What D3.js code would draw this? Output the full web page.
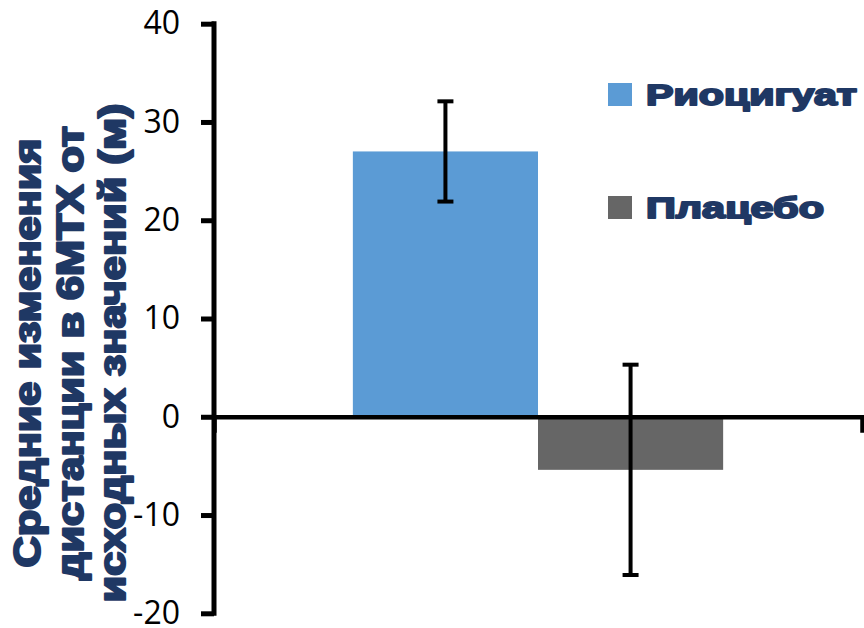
<!DOCTYPE html>
<html>
<head>
<meta charset="utf-8">
<script src="https://cdn.jsdelivr.net/npm/d3@7/dist/d3.min.js"></script>
<style>
  html, body { margin: 0; padding: 0; background: #ffffff; }
  svg { display: block; }
</style>
</head>
<body>
<svg id="chart" width="864" height="628"></svg>
<script>
// Mean change in 6MWT distance from baseline, with error bars
const categories = [""];
const seriesNames = ["Риоцигуат", "Плацебо"];
const seriesValues = [27.0, -5.4];
const errorValues = [5.1, 10.7];
const seriesColors = ["#5B9BD5", "#666666"];
const yTicks = [-20, -10, 0, 10, 20, 30, 40];
const yTickLabels = ["-20", "-10", "0", "10", "20", "30", "40"];
const yTitleLines = ["Средние изменения", "дистанции в 6МТХ от", "исходных значений (м)"];

const navy = "#1F3864";
const svg = d3.select("#chart");

const plot = { left: 214, right: 862, top: 23.7, bottom: 613.3 };

const y = d3.scaleLinear().domain([-20, 40]).range([plot.bottom, plot.top]);
const x0 = d3.scaleBand().domain(categories).range([plot.left, plot.right]);

// bar width from a 150% gap between category groups
const gapWidth = 1.5;
const barW = x0.bandwidth() / (seriesNames.length + gapWidth);
const x1 = d3.scaleBand().domain(seriesNames)
  .range([0, barW * seriesNames.length]);
const groupOffset = (x0.bandwidth() - barW * seriesNames.length) / 2;

const data = seriesNames.map((s, i) => ({
  name: s, value: seriesValues[i], err: errorValues[i], color: seriesColors[i]
}));

// bars
const g = svg.append("g");
g.selectAll("rect.bar").data(data).join("rect")
  .attr("class", "bar")
  .attr("x", d => x0(categories[0]) + groupOffset + x1(d.name))
  .attr("width", x1.bandwidth())
  .attr("y", d => y(Math.max(0, d.value)))
  .attr("height", d => Math.abs(y(d.value) - y(0)))
  .attr("fill", d => d.color);

// x axis along zero
const xAxis = d3.axisBottom(x0).tickSizeInner(0).tickSizeOuter(16).tickFormat("");
const xg = svg.append("g").attr("transform", `translate(0,${y(0)})`).call(xAxis);
xg.select(".domain").attr("stroke", "#000").attr("stroke-width", 4.5).attr("fill", "none");
xg.selectAll(".tick").remove();

// error bars
const capW = 16;
const eb = svg.append("g");
data.forEach(d => {
  const cx = x0(categories[0]) + groupOffset + x1(d.name) + x1.bandwidth() / 2;
  eb.append("line").attr("x1", cx).attr("x2", cx)
    .attr("y1", y(d.value + d.err)).attr("y2", y(d.value - d.err));
  [d.value + d.err, d.value - d.err].forEach(v => {
    eb.append("line").attr("x1", cx - capW / 2).attr("x2", cx + capW / 2)
      .attr("y1", y(v)).attr("y2", y(v));
  });
});
eb.selectAll("line").attr("stroke", "#000").attr("stroke-width", 4);

// y axis
const yAxis = d3.axisLeft(y).tickValues(yTicks).tickSize(13).tickSizeOuter(0).tickPadding(21)
  .tickFormat((d, i) => yTickLabels[i]);
const yg = svg.append("g").attr("transform", `translate(${plot.left},0)`).call(yAxis);
yg.select(".domain").attr("stroke", "#000").attr("stroke-width", 5)
  .attr("d", `M0,${plot.top - 2.5}V${plot.bottom + 2.5}`);
yg.selectAll(".tick line").attr("stroke", "#000").attr("stroke-width", 5);
yg.selectAll(".tick text")
  .attr("fill", "#000")
  .style("font-family", "'Open Sans', 'Liberation Sans', sans-serif")
  .style("font-size", "32px");

// y axis title, three rotated lines
const titleBaselines = [40, 82.5, 125];
const titleLengths = [429, 454, 499];
const titleCenterY = 353;
yTitleLines.forEach((t, i) => {
  svg.append("text")
    .attr("transform", `translate(${titleBaselines[i]},${titleCenterY}) rotate(-90)`)
    .attr("text-anchor", "middle")
    .attr("textLength", titleLengths[i])
    .attr("lengthAdjust", "spacingAndGlyphs")
    .attr("fill", navy)
    .attr("stroke", navy)
    .attr("stroke-width", 2.2)
    .attr("stroke-linejoin", "round")
    .style("font-family", "'Liberation Sans', Arial, sans-serif")
    .style("font-weight", "bold")
    .style("font-size", "36px")
    .text(t);
});

// legend
const legendTop = [83, 196];
const legendLengths = [211, 178];
const legend = svg.append("g");
data.forEach((d, i) => {
  legend.append("rect")
    .attr("x", 608).attr("y", legendTop[i])
    .attr("width", 24).attr("height", 23)
    .attr("fill", d.color);
  legend.append("text")
    .attr("x", 646).attr("y", legendTop[i] + 22)
    .attr("textLength", legendLengths[i])
    .attr("lengthAdjust", "spacingAndGlyphs")
    .attr("fill", navy)
    .attr("stroke", navy)
    .attr("stroke-width", 2)
    .attr("stroke-linejoin", "round")
    .style("font-family", "'Liberation Sans', Arial, sans-serif")
    .style("font-weight", "bold")
    .style("font-size", "30px")
    .text(d.name);
});
</script>
</body>
</html>
